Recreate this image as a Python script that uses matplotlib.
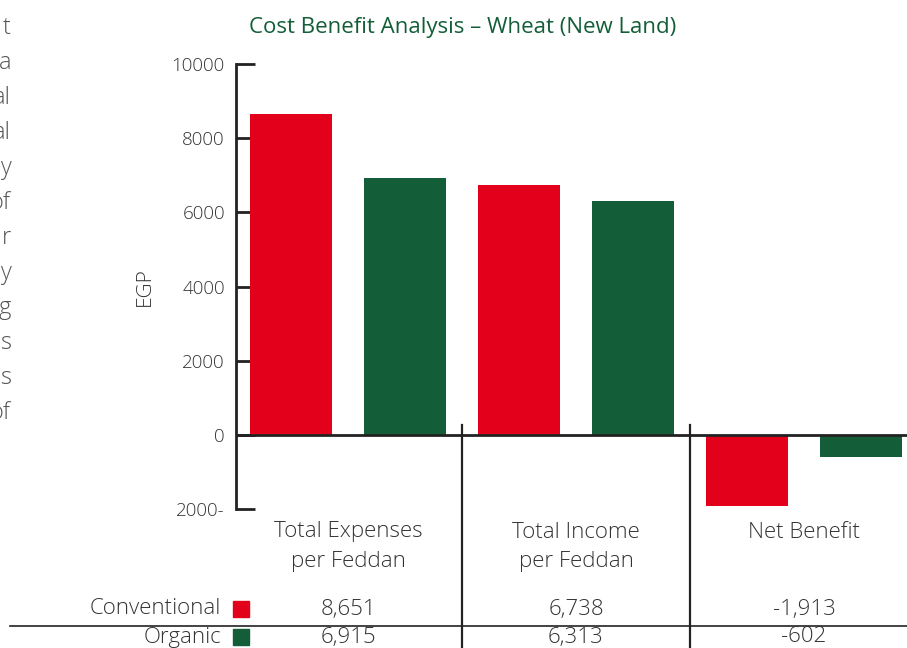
import matplotlib
matplotlib.use("Agg")
import matplotlib.pyplot as plt
from matplotlib.lines import Line2D
from matplotlib.patches import Rectangle

matplotlib.rcParams['font.family'] = ['Open Sans', 'DejaVu Sans']
matplotlib.rcParams['font.size'] = 12

# data
categories = [["Total Expenses", "per Feddan"], ["Total Income", "per Feddan"], ["Net Benefit"]]
conventional = [8651, 6738, -1913]
organic = [6915, 6313, -602]
series_names = ["Conventional", "Organic"]
yticks = [10000, 8000, 6000, 4000, 2000, 0, -2000]
yticklabels = ["10000", "8000", "6000", "4000", "2000", "0", "2000-"]
side_text = ["t", "a", "al", "al", "y", "of", "r", "y", "g", "s", "s", "of"]

RED = "#e2001a"
GREEN = "#135e38"
TXT = "#333333"

W, H = 907, 648
fig = plt.figure(figsize=(W / 100, H / 100), dpi=100)

# axes placed by pixel positions
ax = fig.add_axes([236 / W, 1 - 509 / H, 1 - 236 / W, (509 - 64) / H])

xs_conv = [2 * i for i in range(len(categories))]
xs_org = [2 * i + 1 for i in range(len(categories))]
ax.bar(xs_conv, conventional, width=0.72, color=RED, zorder=2)
ax.bar(xs_org, organic, width=0.72, color=GREEN, zorder=2)
ax.axhline(0, color="#222222", lw=2, zorder=3)

ax.set_xlim(-0.482, 5.40)
ax.set_ylim(-2000, 10000)
for s in ["top", "right", "bottom"]:
    ax.spines[s].set_visible(False)
ax.spines["left"].set_linewidth(2)
ax.spines["left"].set_color("#222222")
ax.set_xticks([])
ax.set_yticks(yticks)
ax.set_yticklabels(yticklabels, color=TXT, fontsize=13.5, fontweight="light")
ax.tick_params(axis="y", direction="in", length=14, width=2, color="#222222", pad=8)
ax.set_ylabel("EGP", color=TXT, fontsize=15, fontweight="light", labelpad=12)


def xpix(x):
    return (236 + (x + 0.482) * 114) / W


# category labels and table values
for i, lines in enumerate(categories):
    xf = xpix(2 * i + 0.5)
    for j, line in enumerate(lines):
        fig.text(xf, 1 - (532 + 29 * j) / H, line, ha="center", va="center",
                 fontsize=16, color=TXT, fontweight="light")
    fig.text(xf, 1 - 609 / H, f"{conventional[i]:,}", ha="center", va="center",
             fontsize=16, color=TXT, fontweight="light")
    fig.text(xf, 1 - 637 / H, f"{organic[i]:,}", ha="center", va="center",
             fontsize=16, color=TXT, fontweight="light")

# separators
for xsep in [1.5, 3.5]:
    xf = xpix(xsep)
    fig.add_artist(Line2D([xf, xf], [0, 1 - 425 / H], color="#222222", lw=1.6))
fig.add_artist(Line2D([10 / W, 1], [1 - 626 / H, 1 - 626 / H], color="#222222", lw=1.2))

# row labels with swatches
for name, color, y in [(series_names[0], RED, 609), (series_names[1], GREEN, 637)]:
    fig.text(221 / W, 1 - y / H, name, ha="right", va="center", fontsize=16,
             color=TXT, fontweight="light")
    fig.add_artist(Rectangle((233 / W, 1 - (y + 8) / H), 16 / W, 16 / H,
                             color=color, transform=fig.transFigure))

# title
fig.text(463 / W, 1 - 27 / H, "Cost Benefit Analysis – Wheat (New Land)",
         ha="center", va="center", fontsize=16, color=GREEN)

# clipped body text on the left edge
for k, s in enumerate(side_text):
    fig.text(11 / W, 1 - (28 + k * 35) / H, s, ha="right", va="center",
             fontsize=17, color="#555555", fontweight="light")

fig.savefig("out.png", dpi=100)
